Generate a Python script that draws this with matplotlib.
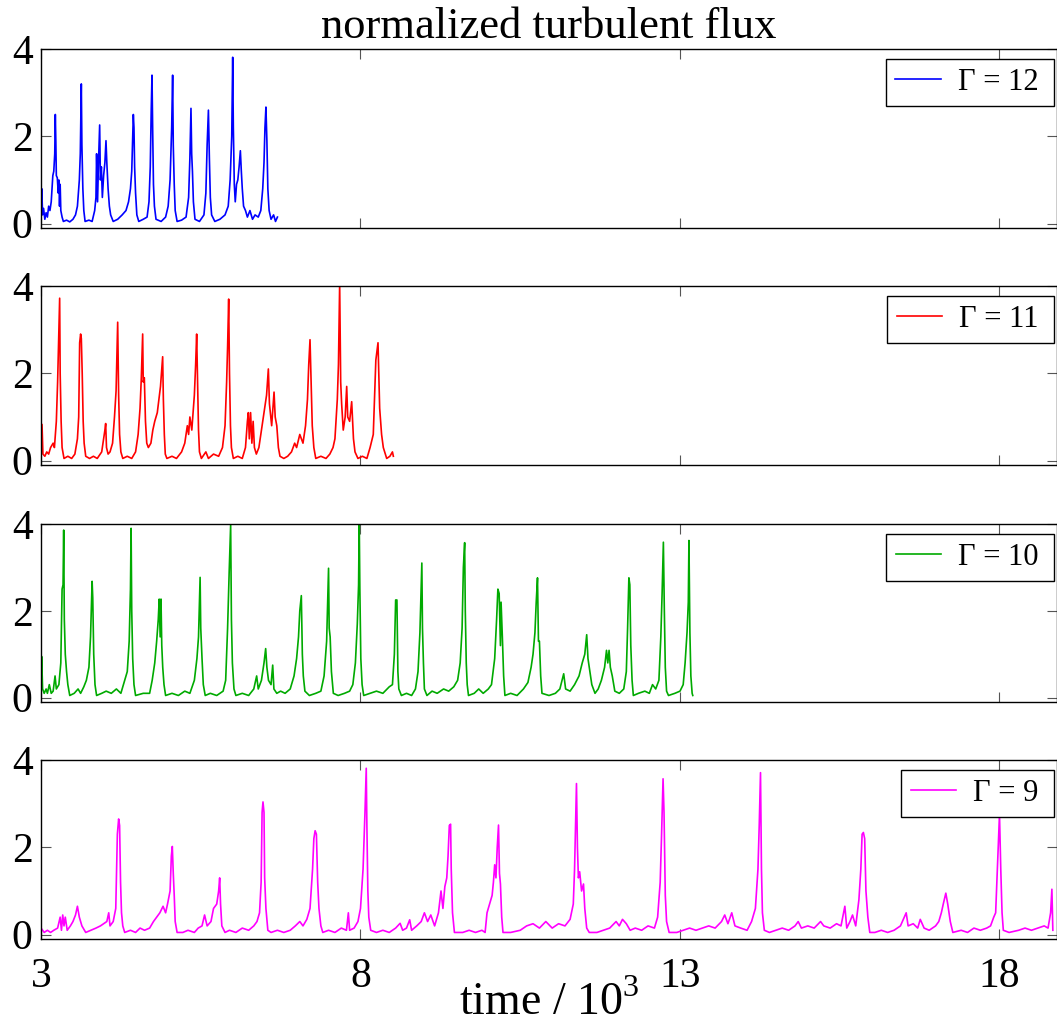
import numpy as np
import matplotlib
matplotlib.use("Agg")
import matplotlib.pyplot as plt

# (time / 10^3, normalized flux), one list per run
gamma12 = [
    (3.000, 0.45), (3.012, 0.8), (3.025, 0.2), (3.04, 0.35), (3.06, 0.1), (3.08, 0.25), (3.10, 0.15),
    (3.12, 0.4), (3.14, 0.3), (3.16, 0.5), (3.185, 1.1), (3.20, 1.2), (3.215, 1.6), (3.224, 2.5),
    (3.232, 1.9), (3.24, 1.1), (3.255, 1.05), (3.27, 0.7), (3.28, 1.0), (3.29, 0.4), (3.30, 0.9),
    (3.31, 0.3), (3.33, 0.15), (3.35, 0.05), (3.40, 0.08), (3.45, 0.04), (3.50, 0.1), (3.54, 0.2),
    (3.57, 0.4), (3.60, 1.0), (3.615, 1.6), (3.631, 3.2), (3.64, 1.8), (3.655, 0.8), (3.67, 0.3),
    (3.69, 0.05), (3.75, 0.08), (3.80, 0.05), (3.84, 0.3), (3.86, 0.6), (3.87, 1.6), (3.885, 0.5),
    (3.90, 1.4), (3.918, 2.26), (3.93, 1.0), (3.945, 1.3), (3.96, 0.6), (3.98, 1.1), (4.00, 1.4),
    (4.017, 1.9), (4.03, 1.4), (4.05, 0.8), (4.07, 0.4), (4.09, 0.2), (4.13, 0.05), (4.20, 0.1),
    (4.27, 0.2), (4.33, 0.3), (4.37, 0.5), (4.40, 0.8), (4.42, 1.2), (4.435, 2.0), (4.445, 2.5),
    (4.455, 2.2), (4.465, 1.3), (4.48, 0.7), (4.50, 0.2), (4.53, 0.05), (4.60, 0.1), (4.66, 0.15),
    (4.69, 0.5), (4.71, 1.3), (4.725, 2.6), (4.737, 3.4), (4.748, 2.1), (4.76, 0.9), (4.775, 0.4),
    (4.80, 0.1), (4.88, 0.05), (4.95, 0.15), (4.99, 0.4), (5.02, 1.0), (5.045, 2.2), (5.06, 3.4),
    (5.07, 1.8), (5.085, 0.9), (5.10, 0.3), (5.13, 0.05), (5.20, 0.08), (5.27, 0.15), (5.31, 0.6),
    (5.33, 1.5), (5.347, 2.64), (5.358, 1.6), (5.37, 1.2), (5.385, 0.5), (5.41, 0.1), (5.48, 0.05),
    (5.55, 0.2), (5.58, 0.7), (5.60, 1.8), (5.62, 2.6), (5.635, 1.5), (5.65, 0.6), (5.67, 0.2),
    (5.72, 0.05), (5.80, 0.1), (5.88, 0.2), (5.93, 0.4), (5.96, 1.0), (5.985, 2.0), (6.00, 3.81),
    (6.01, 2.2), (6.025, 0.9), (6.04, 0.5), (6.06, 0.9), (6.08, 1.0), (6.10, 1.3), (6.12, 1.67),
    (6.135, 1.2), (6.15, 0.8), (6.17, 0.4), (6.20, 0.3), (6.23, 0.15), (6.27, 0.3), (6.31, 0.1),
    (6.35, 0.2), (6.40, 0.15), (6.44, 0.3), (6.47, 0.8), (6.49, 1.4), (6.505, 2.2), (6.52, 2.67),
    (6.535, 1.9), (6.55, 0.8), (6.57, 0.3), (6.60, 0.1), (6.64, 0.2), (6.67, 0.05), (6.70, 0.15),
]

gamma11 = [
    (3.000, 0.3), (3.016, 0.83), (3.03, 0.15), (3.06, 0.1), (3.09, 0.2), (3.12, 0.15), (3.15, 0.3),
    (3.19, 0.4), (3.21, 0.3), (3.24, 0.9), (3.26, 1.8), (3.275, 2.7), (3.292, 3.72), (3.30, 2.0),
    (3.315, 0.9), (3.33, 0.3), (3.36, 0.05), (3.42, 0.1), (3.48, 0.05), (3.53, 0.15), (3.57, 0.5),
    (3.59, 1.0), (3.605, 2.7), (3.62, 2.9), (3.631, 2.8), (3.645, 2.0), (3.66, 0.9), (3.675, 0.4),
    (3.70, 0.1), (3.76, 0.05), (3.82, 0.1), (3.88, 0.05), (3.95, 0.2), (3.98, 0.5), (4.00, 0.7),
    (4.012, 0.85), (4.025, 0.3), (4.05, 0.15), (4.08, 0.2), (4.12, 0.4), (4.15, 1.0), (4.175, 1.6),
    (4.20, 3.17), (4.215, 1.5), (4.23, 0.6), (4.25, 0.2), (4.28, 0.05), (4.35, 0.1), (4.42, 0.05),
    (4.48, 0.2), (4.52, 0.6), (4.55, 1.2), (4.57, 1.9), (4.591, 2.9), (4.60, 1.8), (4.617, 1.9),
    (4.635, 0.9), (4.655, 0.4), (4.68, 0.3), (4.72, 0.4), (4.75, 0.7), (4.78, 0.9), (4.82, 1.1),
    (4.87, 1.7), (4.904, 2.38), (4.915, 1.4), (4.93, 0.6), (4.945, 0.15), (4.97, 0.05), (5.05, 0.1),
    (5.12, 0.05), (5.20, 0.2), (5.25, 0.4), (5.29, 0.8), (5.31, 0.6), (5.33, 1.0), (5.36, 0.7),
    (5.38, 1.1), (5.40, 1.5), (5.42, 2.2), (5.436, 2.9), (5.45, 1.8), (5.465, 0.7), (5.48, 0.2),
    (5.51, 0.05), (5.58, 0.2), (5.62, 0.05), (5.70, 0.15), (5.78, 0.1), (5.84, 0.3), (5.88, 0.8),
    (5.905, 1.8), (5.92, 2.6), (5.937, 3.7), (5.95, 2.0), (5.965, 0.8), (5.98, 0.3), (6.01, 0.05),
    (6.08, 0.1), (6.15, 0.05), (6.20, 0.3), (6.23, 0.9), (6.245, 1.1), (6.26, 0.5), (6.28, 1.1),
    (6.30, 0.4), (6.32, 0.9), (6.34, 0.3), (6.37, 0.15), (6.41, 0.3), (6.46, 0.8), (6.50, 1.2),
    (6.53, 1.5), (6.558, 2.1), (6.575, 1.3), (6.61, 0.8), (6.63, 1.2), (6.647, 1.57), (6.665, 1.0),
    (6.69, 0.8), (6.715, 0.3), (6.74, 0.1), (6.80, 0.05), (6.86, 0.1), (6.92, 0.2), (6.97, 0.4),
    (7.00, 0.3), (7.05, 0.6), (7.10, 0.4), (7.14, 0.8), (7.17, 1.4), (7.19, 2.2), (7.21, 2.77),
    (7.225, 1.9), (7.245, 0.8), (7.27, 0.3), (7.30, 0.05), (7.38, 0.1), (7.46, 0.05), (7.52, 0.15),
    (7.57, 0.3), (7.60, 0.5), (7.637, 1.4), (7.655, 2.2), (7.674, 4.05), (7.69, 1.8), (7.705, 1.3),
    (7.73, 0.7), (7.76, 1.0), (7.784, 1.7), (7.80, 1.0), (7.83, 0.9), (7.862, 1.35), (7.89, 0.5),
    (7.914, 0.2), (7.96, 0.05), (8.03, 0.1), (8.10, 0.05), (8.15, 0.3), (8.20, 0.6), (8.24, 2.3),
    (8.274, 2.7), (8.30, 1.2), (8.33, 0.6), (8.357, 0.3), (8.41, 0.05), (8.46, 0.1), (8.50, 0.2),
    (8.514, 0.1),
]

gamma10 = [
    (3.000, 0.3), (3.01, 0.95), (3.025, 0.2), (3.05, 0.1), (3.08, 0.2), (3.10, 0.1), (3.13, 0.3),
    (3.16, 0.1), (3.19, 0.15), (3.22, 0.5), (3.24, 0.2), (3.28, 0.3), (3.31, 0.8), (3.33, 2.5),
    (3.345, 2.6), (3.355, 3.86), (3.365, 1.8), (3.38, 1.0), (3.40, 0.6), (3.42, 0.3), (3.45, 0.05),
    (3.52, 0.1), (3.58, 0.2), (3.62, 0.1), (3.67, 0.25), (3.71, 0.4), (3.75, 0.7), (3.775, 1.4),
    (3.79, 2.2), (3.80, 2.68), (3.81, 2.3), (3.825, 1.0), (3.845, 0.3), (3.87, 0.05), (3.95, 0.1),
    (4.02, 0.15), (4.10, 0.1), (4.18, 0.2), (4.25, 0.1), (4.30, 0.35), (4.35, 0.6), (4.38, 1.3),
    (4.40, 2.5), (4.41, 3.9), (4.42, 2.0), (4.435, 0.9), (4.455, 0.3), (4.48, 0.05), (4.60, 0.1),
    (4.70, 0.1), (4.74, 0.4), (4.78, 0.8), (4.81, 1.3), (4.835, 1.8), (4.85, 2.27), (4.865, 1.4),
    (4.878, 2.27), (4.89, 1.2), (4.905, 0.7), (4.925, 0.3), (4.95, 0.05), (5.05, 0.1), (5.15, 0.05),
    (5.25, 0.15), (5.33, 0.1), (5.40, 0.4), (5.44, 0.9), (5.465, 1.4), (5.48, 2.2), (5.49, 2.77),
    (5.50, 1.6), (5.52, 0.9), (5.54, 0.3), (5.57, 0.05), (5.65, 0.1), (5.75, 0.05), (5.85, 0.15),
    (5.89, 0.4), (5.92, 1.6), (5.945, 2.9), (5.968, 3.98), (5.98, 1.8), (5.995, 0.8), (6.02, 0.2),
    (6.05, 0.05), (6.15, 0.1), (6.25, 0.05), (6.33, 0.2), (6.375, 0.5), (6.40, 0.2), (6.45, 0.4),
    (6.49, 0.8), (6.516, 1.13), (6.535, 0.7), (6.56, 0.4), (6.60, 0.3), (6.626, 0.75), (6.645, 0.2),
    (6.69, 0.1), (6.75, 0.15), (6.82, 0.1), (6.90, 0.2), (6.96, 0.5), (7.00, 0.9), (7.03, 1.4),
    (7.05, 2.0), (7.074, 2.35), (7.09, 1.0), (7.105, 0.5), (7.13, 0.15), (7.20, 0.05), (7.30, 0.1),
    (7.38, 0.15), (7.43, 0.5), (7.47, 1.3), (7.49, 2.4), (7.50, 2.98), (7.51, 1.6), (7.525, 1.4),
    (7.545, 0.6), (7.575, 0.1), (7.65, 0.05), (7.75, 0.1), (7.83, 0.15), (7.88, 0.3), (7.92, 0.8),
    (7.95, 1.7), (7.97, 2.6), (7.98, 4.1), (7.99, 2.5), (8.005, 0.9), (8.025, 0.3), (8.05, 0.05),
    (8.15, 0.1), (8.25, 0.15), (8.35, 0.1), (8.45, 0.25), (8.50, 0.3), (8.53, 1.0), (8.55, 2.25),
    (8.57, 2.25), (8.585, 0.6), (8.60, 0.2), (8.64, 0.05), (8.72, 0.1), (8.80, 0.05), (8.86, 0.2),
    (8.90, 0.6), (8.93, 1.5), (8.95, 2.6), (8.96, 3.1), (8.97, 1.6), (8.985, 0.8), (9.00, 0.2),
    (9.04, 0.05), (9.12, 0.15), (9.20, 0.1), (9.30, 0.2), (9.38, 0.15), (9.46, 0.25), (9.52, 0.4),
    (9.56, 0.8), (9.59, 1.6), (9.61, 3.0), (9.63, 3.57), (9.64, 2.0), (9.655, 0.8), (9.67, 0.3),
    (9.69, 0.05), (9.78, 0.1), (9.85, 0.2), (9.92, 0.1), (10.00, 0.2), (10.05, 0.3), (10.10, 0.9),
    (10.13, 1.8), (10.15, 2.5), (10.17, 2.4), (10.19, 1.2), (10.20, 2.2), (10.22, 1.4), (10.24, 0.5),
    (10.26, 0.05), (10.35, 0.1), (10.45, 0.05), (10.55, 0.2), (10.62, 0.35), (10.67, 0.7),
    (10.70, 1.0), (10.73, 1.5), (10.75, 2.2), (10.77, 2.76), (10.785, 1.3), (10.80, 1.3),
    (10.82, 0.5), (10.84, 0.1), (10.95, 0.05), (11.05, 0.1), (11.12, 0.2), (11.18, 0.55),
    (11.21, 0.2), (11.28, 0.15), (11.35, 0.3), (11.42, 0.5), (11.47, 0.8), (11.51, 1.0),
    (11.54, 1.45), (11.56, 0.9), (11.59, 0.6), (11.62, 0.3), (11.67, 0.1), (11.72, 0.2),
    (11.77, 0.4), (11.82, 0.7), (11.85, 1.09), (11.87, 0.8), (11.89, 1.09), (11.91, 0.7),
    (11.94, 0.5), (11.98, 0.15), (12.05, 0.1), (12.12, 0.2), (12.16, 0.6), (12.18, 1.6),
    (12.20, 2.76), (12.215, 2.6), (12.23, 1.2), (12.25, 0.4), (12.27, 0.05), (12.35, 0.1),
    (12.45, 0.15), (12.52, 0.1), (12.57, 0.3), (12.62, 0.2), (12.67, 0.4), (12.70, 1.4),
    (12.72, 2.4), (12.74, 3.58), (12.755, 2.0), (12.77, 0.7), (12.79, 0.15), (12.82, 0.05),
    (12.92, 0.1), (13.00, 0.15), (13.05, 0.3), (13.08, 0.8), (13.11, 1.5), (13.13, 2.2),
    (13.14, 3.62), (13.155, 1.5), (13.17, 0.5), (13.19, 0.1), (13.20, 0.05),
]

gamma9 = [
    (3.000, 0.15), (3.05, 0.05), (3.10, 0.1), (3.15, 0.05), (3.20, 0.1), (3.26, 0.15), (3.30, 0.4),
    (3.32, 0.1), (3.34, 0.45), (3.36, 0.2), (3.38, 0.4), (3.41, 0.1), (3.46, 0.2), (3.50, 0.3),
    (3.54, 0.45), (3.57, 0.65), (3.60, 0.4), (3.64, 0.2), (3.70, 0.05), (3.78, 0.1), (3.86, 0.15),
    (3.93, 0.2), (3.98, 0.25), (4.03, 0.3), (4.06, 0.5), (4.08, 0.2), (4.13, 0.3), (4.17, 0.6),
    (4.195, 2.3), (4.215, 2.65), (4.23, 2.5), (4.245, 1.2), (4.26, 0.5), (4.28, 0.2), (4.31, 0.05),
    (4.40, 0.1), (4.48, 0.05), (4.55, 0.15), (4.62, 0.1), (4.70, 0.15), (4.76, 0.3), (4.81, 0.4),
    (4.86, 0.5), (4.91, 0.65), (4.95, 0.5), (4.98, 0.7), (5.02, 1.0), (5.04, 1.8), (5.055, 2.02),
    (5.07, 1.4), (5.085, 0.9), (5.10, 0.3), (5.13, 0.05), (5.22, 0.05), (5.30, 0.1), (5.40, 0.05),
    (5.46, 0.15), (5.52, 0.2), (5.56, 0.45), (5.60, 0.2), (5.66, 0.3), (5.70, 0.6), (5.75, 0.7),
    (5.78, 1.0), (5.796, 1.3), (5.81, 0.7), (5.83, 0.2), (5.88, 0.05), (5.95, 0.1), (6.05, 0.05),
    (6.15, 0.15), (6.25, 0.1), (6.33, 0.2), (6.38, 0.3), (6.42, 0.5), (6.445, 1.2), (6.46, 2.8),
    (6.474, 3.04), (6.49, 2.8), (6.50, 1.3), (6.52, 0.6), (6.55, 0.1), (6.60, 0.05), (6.70, 0.1),
    (6.80, 0.05), (6.90, 0.1), (6.98, 0.2), (7.05, 0.3), (7.10, 0.2), (7.16, 0.35), (7.21, 0.6),
    (7.25, 1.5), (7.27, 2.2), (7.29, 2.38), (7.31, 2.3), (7.33, 1.2), (7.35, 0.6), (7.38, 0.2),
    (7.41, 0.05), (7.50, 0.1), (7.60, 0.05), (7.70, 0.15), (7.78, 0.1), (7.81, 0.5), (7.83, 0.1),
    (7.90, 0.15), (7.96, 0.3), (8.00, 0.6), (8.04, 1.5), (8.07, 2.8), (8.09, 3.81), (8.10, 2.5),
    (8.115, 1.0), (8.13, 0.4), (8.16, 0.1), (8.25, 0.05), (8.35, 0.1), (8.45, 0.05), (8.55, 0.15),
    (8.62, 0.26), (8.66, 0.1), (8.72, 0.15), (8.77, 0.34), (8.80, 0.1), (8.88, 0.2), (8.95, 0.3),
    (9.00, 0.5), (9.05, 0.3), (9.10, 0.45), (9.16, 0.2), (9.22, 0.5), (9.26, 1.0), (9.29, 0.6),
    (9.32, 1.1), (9.35, 1.3), (9.37, 1.8), (9.39, 2.5), (9.41, 2.53), (9.42, 1.5), (9.44, 0.5),
    (9.47, 0.05), (9.60, 0.05), (9.70, 0.1), (9.80, 0.05), (9.90, 0.1), (9.95, 0.05), (9.98, 0.5),
    (10.02, 0.7), (10.06, 0.9), (10.08, 1.2), (10.10, 1.6), (10.12, 1.3), (10.14, 2.0), (10.16, 2.51),
    (10.175, 1.4), (10.19, 1.16), (10.21, 0.4), (10.23, 0.05), (10.35, 0.05), (10.50, 0.1),
    (10.60, 0.2), (10.70, 0.25), (10.80, 0.15), (10.90, 0.3), (11.00, 0.15), (11.10, 0.25),
    (11.20, 0.2), (11.28, 0.35), (11.33, 0.7), (11.35, 1.5), (11.37, 2.8), (11.38, 3.46),
    (11.395, 2.0), (11.41, 1.3), (11.43, 1.44), (11.46, 1.0), (11.49, 1.16), (11.51, 0.6),
    (11.54, 0.15), (11.58, 0.05), (11.70, 0.05), (11.80, 0.1), (11.90, 0.15), (12.00, 0.3),
    (12.05, 0.2), (12.10, 0.35), (12.16, 0.25), (12.22, 0.1), (12.30, 0.15), (12.40, 0.1),
    (12.50, 0.2), (12.60, 0.15), (12.65, 0.4), (12.69, 1.2), (12.71, 2.2), (12.735, 3.57),
    (12.75, 2.8), (12.77, 0.9), (12.79, 0.3), (12.83, 0.05), (12.95, 0.05), (13.05, 0.1),
    (13.15, 0.15), (13.25, 0.1), (13.35, 0.15), (13.45, 0.2), (13.55, 0.15), (13.65, 0.3),
    (13.70, 0.45), (13.75, 0.25), (13.81, 0.5), (13.86, 0.2), (13.95, 0.15), (14.05, 0.1),
    (14.12, 0.3), (14.18, 0.6), (14.22, 1.5), (14.24, 2.5), (14.26, 3.71), (14.275, 1.5),
    (14.29, 0.5), (14.32, 0.1), (14.40, 0.05), (14.50, 0.1), (14.60, 0.15), (14.70, 0.1),
    (14.80, 0.2), (14.85, 0.3), (14.90, 0.15), (15.00, 0.2), (15.10, 0.15), (15.20, 0.3),
    (15.25, 0.2), (15.35, 0.15), (15.45, 0.25), (15.52, 0.2), (15.58, 0.65), (15.61, 0.15),
    (15.66, 0.3), (15.70, 0.45), (15.75, 0.2), (15.80, 0.8), (15.83, 1.5), (15.85, 2.3),
    (15.87, 2.34), (15.89, 2.2), (15.91, 1.0), (15.94, 0.4), (15.97, 0.05), (16.05, 0.05),
    (16.15, 0.1), (16.25, 0.05), (16.35, 0.1), (16.45, 0.2), (16.54, 0.5), (16.57, 0.2),
    (16.65, 0.25), (16.72, 0.15), (16.76, 0.35), (16.82, 0.15), (16.90, 0.1), (17.00, 0.2),
    (17.05, 0.3), (17.09, 0.5), (17.12, 0.7), (17.16, 0.95), (17.19, 0.7), (17.23, 0.3),
    (17.27, 0.05), (17.40, 0.1), (17.50, 0.05), (17.60, 0.15), (17.70, 0.1), (17.80, 0.15),
    (17.86, 0.2), (17.91, 0.4), (17.94, 0.5), (17.965, 1.4), (17.98, 2.0), (18.00, 2.76),
    (18.02, 1.5), (18.04, 0.5), (18.06, 0.1), (18.15, 0.05), (18.30, 0.1), (18.40, 0.15),
    (18.50, 0.1), (18.60, 0.15), (18.70, 0.2), (18.76, 0.15), (18.80, 0.5), (18.82, 1.04),
    (18.835, 0.1),
]

runs = [gamma12, gamma11, gamma10, gamma9]
labels = ["Γ = 12", "Γ = 11", "Γ = 10", "Γ = 9"]
colors = ["#0000ff", "#ff0000", "#00aa00", "#ff00ff"]
xticks = [3, 8, 13, 18]
yticks = [0, 2, 4]

plt.rcParams["font.family"] = ["Liberation Serif", "DejaVu Serif"]
plt.rcParams["mathtext.fontset"] = "custom"
plt.rcParams["mathtext.rm"] = "Liberation Serif"

fig = plt.figure(figsize=(10.57, 10.24), dpi=100)

# axes boxes in pixels (top, bottom) measured on the reference
left, right = 41, 1057
rows = [(49, 228), (286, 465), (524, 702), (760, 939)]
W, H = 1057, 1024

axes = []
for (top, bot), data, lab, col in zip(rows, runs, labels, colors):
    ax = fig.add_axes([left / W, 1 - bot / H, (right - left) / W, (bot - top) / H])
    t, f = np.array(data).T
    ax.plot(t, f, color=col, lw=1.2, label=lab)
    ax.set_xlim(3, 18.9)
    ax.set_ylim(-0.1, 4)
    ax.set_xticks(xticks)
    ax.set_yticks(yticks)
    ax.tick_params(direction="in", length=7, width=0.8, color="#555555",
                   top=True, right=True, labelsize=30, pad=6)
    ax.tick_params(axis="x", pad=13)
    for s in ax.spines.values():
        s.set_linewidth(1.0)
    # trailing thin space widens the right padding of the box like the original
    leg = ax.legend([lab + "\u2009"], loc="upper right", bbox_to_anchor=(0.997, 0.944),
                    borderaxespad=0, fontsize=22, frameon=True, fancybox=False, framealpha=1,
                    edgecolor="black", handlelength=1.5, handletextpad=0.55, borderpad=0.3)
    leg.get_frame().set_linewidth(1.0)
    axes.append(ax)

for ax in axes[:-1]:
    ax.set_xticklabels([])

axes[0].set_title("normalized turbulent flux", fontsize=32, pad=8)
axes[-1].set_xlabel("time / 10$^3$", fontsize=33, labelpad=-10)

fig.savefig("out.png", dpi=100)
